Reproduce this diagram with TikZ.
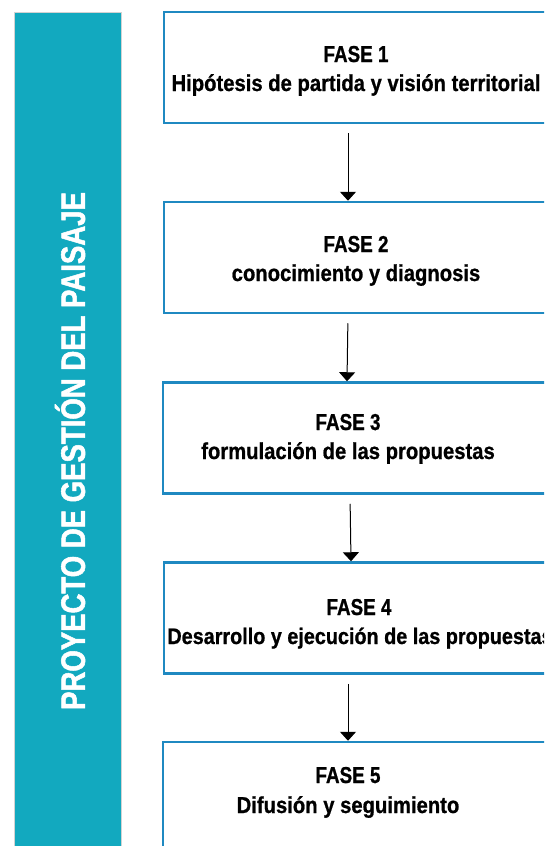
\documentclass[tikz,border=0pt]{standalone}
\usepackage{fontspec}
\newfontfamily\titulofont{Liberation Sans}[FakeStretch=0.81,FakeBold=1.5]
\newfontfamily\fasefont{Liberation Sans}[FakeStretch=0.82,FakeBold=0.8]
\newfontfamily\lineafont{Liberation Sans}[FakeStretch=0.88,FakeBold=0.8]
\usepackage{tikz}
\usetikzlibrary{arrows.meta}
\usetikzlibrary{positioning}
\definecolor{barra}{HTML}{12A9BF}
\definecolor{borde}{HTML}{1F89C1}
\tikzset{
	fase/.style={draw=borde,line width=2.5pt,fill=white,minimum width=388pt,minimum height=111pt,inner sep=0pt},
	fasetit/.style={anchor=base,inner sep=0pt,font=\fasefont\bfseries\fontsize{23}{23}\selectfont},
	fasetxt/.style={anchor=base,inner sep=0pt,font=\lineafont\bfseries\fontsize{23}{23}\selectfont},
	flecha/.style={line width=1pt,-{Triangle[width=16pt,length=9pt]},shorten <=9pt}
}
\begin{document}
	\begin{tikzpicture}[x=1pt,y=-1pt]
		\useasboundingbox (0,0) rectangle (544,846);
		\clip (0,0) rectangle (544,846);
		
		\node [fill=barra,draw=gray!35,line width=0.8pt,minimum width=107pt,minimum height=850pt,inner sep=0pt,anchor=north west,name=B] at (14,12) {};
		\node [rotate=90,text=white,font=\titulofont\bfseries\fontsize{34}{34}\selectfont,name=T] at (70,451) {PROYECTO DE GESTIÓN DEL PAISAJE};

		\node [fase,name=F1] at (358,67.5) {};
		\node [fase,name=F2] at (358,257.5) {};
		\node [fase,name=F3] at (357,438) {};
		\node [fase,name=F4] at (358,618) {};
		\node [fase,name=F5] at (357,797.5) {};

		\node [fasetit,name=N1] at (356,62) {FASE 1};
		\node [fasetxt,name=D1] at (356,91) {Hipótesis de partida y visión territorial};
		\node [fasetit,name=N2] at (356,252) {FASE 2};
		\node [fasetxt,name=D2] at (356,281) {conocimiento y diagnosis};
		\node [fasetit,name=N3] at (348,430) {FASE 3};
		\node [fasetxt,name=D3] at (348,459) {formulación de las propuestas};
		\node [fasetit,name=N4] at (359,615) {FASE 4};
		\node [fasetxt,font=\lineafont\bfseries\fontsize{22.5}{23}\selectfont,name=D4] at (360,644) {Desarrollo y ejecución de las propuestas};
		\node [fasetit,name=N5] at (348,783) {FASE 5};
		\node [fasetxt,name=D5] at (348,813) {Difusión y seguimiento};

		\draw [flecha] ([xshift=-10pt]F1.south) -- ([xshift=-10pt]F2.north);
		\draw [flecha] ([xshift=-10pt]F2.south) -- ([xshift=-10pt]F3.north);
		\draw [flecha] ([xshift=-7pt]F3.south) -- ([xshift=-7pt]F4.north);
		\draw [flecha] ([xshift=-10pt]F4.south) -- ([xshift=-9pt]F5.north);
	\end{tikzpicture}
\end{document}
